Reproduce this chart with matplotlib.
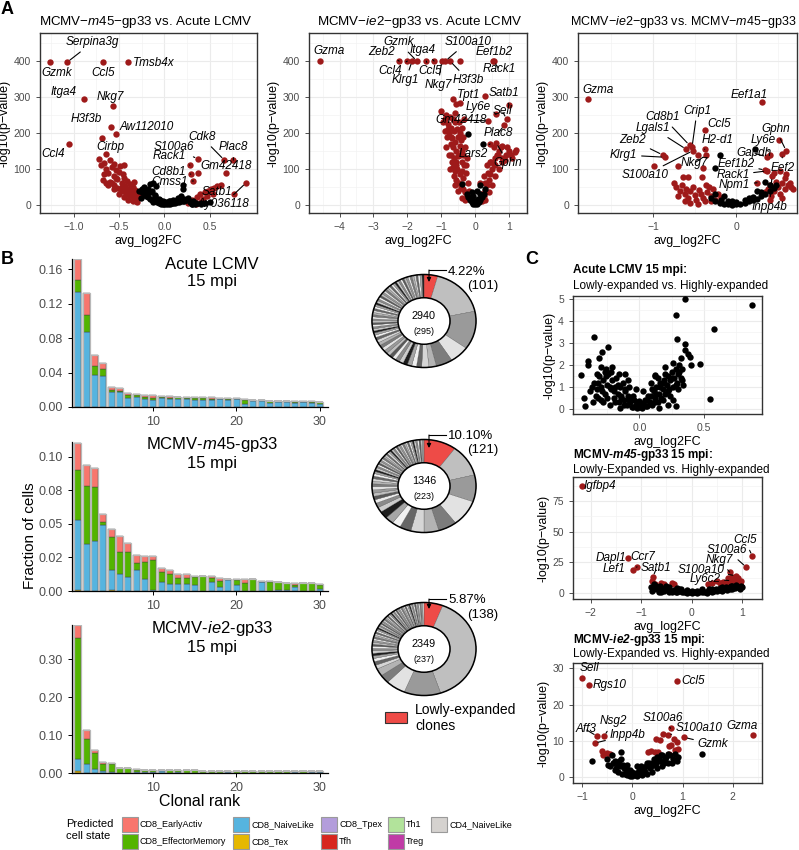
import numpy as np
import matplotlib
matplotlib.use("Agg")
import matplotlib.pyplot as plt
from matplotlib.patches import Circle, Rectangle
from matplotlib.ticker import FixedLocator

plt.rcParams['font.family'] = ['Liberation Sans', 'DejaVu Sans']
plt.rcParams['mathtext.fontset'] = 'custom'
plt.rcParams['mathtext.rm'] = 'Liberation Sans'
plt.rcParams['mathtext.it'] = 'Liberation Sans:italic'
plt.rcParams['mathtext.bf'] = 'Liberation Sans:bold'
plt.rcParams['mathtext.bfit'] = 'Liberation Sans:bold:italic'

# ---------------- data: panel A volcanoes ----------------
a1_genes = ['Gzmk', 'Serpina3g', 'Ccl5', 'Tmsb4x', 'Itga4', 'Nkg7', 'H3f3b', 'Aw112010', 'Cirbp', 'Ccl4',
            'S100a6', 'Cdk8', 'Plac8', 'Gm42418', 'Rack1', 'Cd8b1', 'Cmss1', 'Satb1', 'Ay036118']
a1_gene_fc = [-1.26, -1.07, -0.68, -0.40, -0.89, -0.57, -0.59, -0.53, -0.69, -1.05,
              0.37, 0.66, 0.76, 0.68, 0.28, 0.29, 0.32, 0.77, 0.90]
a1_gene_p = [397, 397, 397, 397, 295, 276, 217, 197, 186, 169, 128, 125, 125, 88, 111, 86, 67, 32, 62]
a1_red_fc = [-0.72, -0.70, -0.66, -0.64, -0.62, -0.60, -0.58, -0.56, -0.55, -0.53, -0.52, -0.50, -0.49, -0.47,
             -0.46, -0.44, -0.43, -0.41, -0.40, -0.38, -0.37, -0.35, -0.34, -0.32, -0.31, -0.29, -0.28, -0.26,
             -0.60, -0.56, -0.52, -0.48, -0.45, -0.42, -0.39, -0.36, -0.33, -0.64, -0.68, -0.31, -0.64, 0.37,
             0.26, 0.30, 0.33, 0.36, 0.39, 0.42, 0.45, 0.48, 0.51, 0.55, 0.58, 0.62, 0.40, 0.47, 0.53, 0.35,
             -0.50, -0.45, -0.40, -0.35, -0.30, -0.47, -0.42, -0.37, -0.33, -0.55, -0.58, -0.62, -0.66, -0.53,
             -0.44]
a1_red_p = [128, 112, 118, 100, 90, 125, 105, 82, 115, 98, 72, 92, 108, 62,
            85, 75, 52, 68, 45, 58, 40, 50, 32, 42, 25, 35, 22, 28,
            65, 55, 48, 38, 40, 30, 28, 25, 18, 60, 70, 11, 141, 88,
            5, 15, 10, 22, 30, 18, 35, 40, 45, 48, 52, 55, 8, 25, 30, 3,
            30, 22, 15, 12, 8, 50, 40, 35, 65, 45, 60, 55, 85, 75,
            110]
a1_black_fc = [-0.28, -0.25, -0.22, -0.20, -0.18, -0.16, -0.14, -0.12, -0.10, -0.08, -0.06, -0.04, -0.02, 0.0,
               0.02, 0.04, 0.06, 0.08, 0.10, 0.12, 0.14, 0.16, 0.18, 0.20, 0.22, 0.24, -0.18, -0.14, -0.10,
               -0.06, -0.02, 0.02, 0.06, 0.10, 0.14, 0.18, 0.22, 0.26, 0.30, -0.22, -0.16, -0.12, -0.09, 0.20,
               0.21, 0.34, 0.40,
               0.30, 0.35, 0.40, 0.45, 0.50, 0.28, 0.32, -0.25, -0.20, -0.15, -0.10, -0.05, 0.0, 0.05, 0.10,
               0.15, 0.18, -0.26, -0.19, -0.13]
a1_black_p = [40, 35, 30, 26, 22, 18, 15, 12, 10, 8, 6, 4, 3, 2,
              2, 3, 4, 5, 6, 7, 8, 9, 10, 11, 12, 13, 45, 38, 28,
              18, 10, 8, 10, 12, 14, 16, 18, 20, 2, 50, 58, 60, 52, 45,
              55, 4, 6,
              3, 5, 3, 6, 8, 8, 12, 45, 40, 35, 25, 15, 8, 12, 15,
              20, 25, 20, 30, 8]

a2_genes = ['Gzma', 'Zeb2', 'Ccl4', 'Klrg1', 'Gzmk', 'Ccl5', 'Itga4', 'Nkg7', 'S100a10', 'H3f3b',
            'Eef1b2', 'Rack1', 'Tpt1', 'Satb1', 'Ly6e', 'Sell', 'Gm42418', 'Plac8', 'Lars2', 'Gphn']
a2_gene_fc = [-4.59, -2.24, -2.00, -1.86, -1.72, -1.44, -1.21, -0.98, -0.88, -0.74,
              0.53, 0.55, 0.29, 1.00, 0.62, 0.93, 0.38, 0.86, 0.44, 0.62]
a2_gene_p = [400, 400, 400, 400, 400, 400, 400, 400, 400, 400, 400, 400, 303, 278, 252, 239, 234, 222, 170, 173]
a2_red_fc = [-0.44, -1.00, -0.90, -0.95, -0.85, -0.80, -0.75, -0.70, -0.88, -0.82, -0.76, -0.68, -0.62, -0.58,
             -0.55, -0.65, -0.46, -0.72, -0.66, -0.60, -0.55, -0.50, -0.45, -0.70, -0.62, -0.56, -0.50, -0.44,
             -0.40, -0.64, -0.58, -0.52, -0.46, -0.40, -0.35, -0.55, -0.48, -0.42, -0.36, -0.30, -0.25, -0.50,
             -0.38, -0.30, -0.85, -0.78, -0.40, -0.35, -0.30, -0.32, -0.25,
             0.20, 0.25, 0.30, 0.35, 0.40, 0.45, 0.50, 0.55, 0.60, 0.65, 0.70, 0.75, 0.80, 0.30, 0.40, 0.50,
             0.60, 0.70, 0.80, 0.90, 1.00, 1.22, 1.18, 0.45, 0.55, 0.35, 0.25, 0.15, 1.10,
             -0.80, -0.72, -0.65, -0.60, -0.52, -0.48, -0.42, -0.38, -0.34, -0.28, -0.22, -0.18, -0.62, -0.55,
             -0.45, -0.35, -0.28, -0.68, -0.74, -0.58, 0.18, 0.28, 0.38, 0.48, 0.58, 0.68, 0.78, 0.88, 0.95,
             1.05]
a2_red_p = [400, 262, 240, 230, 250, 225, 245, 215, 205, 190, 200, 185, 205, 230,
            280, 294, 283, 170, 160, 175, 150, 190, 165, 140, 130, 120, 135, 140,
            120, 105, 95, 100, 85, 95, 75, 70, 60, 50, 45, 35, 25, 40,
            20, 15, 160, 140, 215, 190, 160, 240, 130,
            10, 25, 40, 55, 70, 85, 100, 115, 130, 140, 150, 160, 165, 15, 35, 55,
            80, 100, 120, 140, 150, 153, 148, 120, 160, 110, 80, 60, 130,
            210, 190, 240, 255, 210, 230, 180, 150, 110, 90, 60, 40, 80, 110,
            200, 140, 110, 120, 100, 55, 30, 60, 90, 120, 110, 140, 130, 125, 160,
            140]
a2_black_fc = [-0.25, -0.20, -0.15, -0.10, -0.05, 0.0, 0.05, 0.10, 0.15, 0.20, 0.25, -0.12, 0.0, 0.08, -0.05,
               0.15, -0.38, 0.15, -0.20, 0.24, -0.10, 0.05, 0.30]
a2_black_p = [30, 22, 15, 8, 4, 2, 4, 8, 14, 22, 30, 20, 12, 18, 25,
              30, 58, 55, 197, 170, 35, 40, 45]

a3_genes = ['Gzma', 'Eef1a1', 'Crip1', 'Cd8b1', 'Lgals1', 'Ccl5', 'H2-d1', 'Zeb2', 'Klrg1', 'S100a10',
            'Nkg7', 'Gphn', 'Ly6e', 'Gapdh', 'Eef2', 'Eef1b2', 'Rack1', 'Npm1', 'Inpp4b']
a3_gene_fc = [-1.78, 0.31, -0.53, -0.56, -0.60, -0.38, -0.38, -0.88, -0.86, -0.52,
              -0.36, 0.60, 0.40, 0.37, 0.55, 0.35, 0.37, 0.25, 0.43]
a3_gene_p = [295, 287, 162, 166, 155, 208, 155, 139, 133, 151, 139, 151, 140, 134, 143, 97, 95, 62, 81]
a3_red_fc = [-0.72, -0.68, -0.65, -0.62, -0.60, -0.58, -0.55, -0.52, -0.50, -0.48, -0.45, -0.42, -0.40, -0.38,
             -0.35, -0.33, -0.30, -0.28, -0.25, -0.22, -0.20, -0.18, -0.70, -0.56, -0.46, -0.62, -0.36, -0.30,
             -0.99, -0.70, -0.64, -0.58, -0.41, -0.46, -0.40, -0.75,
             0.35, 0.38, 0.40, 0.42, 0.45, 0.48, 0.50, 0.52, 0.55, 0.58, 0.60, 0.62, 0.45, 0.52, 0.58, 0.66,
             0.68, 0.64, 0.40, 0.55, 0.51]
a3_red_p = [50, 40, 55, 30, 45, 20, 38, 50, 28, 15, 42, 30, 20, 10,
            35, 50, 25, 45, 15, 30, 8, 20, 25, 5, 2, 10, 55, 12,
            108, 108, 78, 78, 78, 139, 103, 60,
            35, 45, 55, 25, 40, 65, 50, 30, 60, 45, 85, 55, 90, 95, 75, 50,
            45, 62, 15, 20, 180]
a3_black_fc = [-0.30, -0.25, -0.20, -0.15, -0.10, -0.05, 0.0, 0.05, 0.10, 0.15, 0.20, 0.25, 0.30, 0.35, 0.40,
               0.45, 0.48, -0.18, -0.10, 0.0, 0.10, 0.20, 0.30, 0.25, 0.40, -0.25, -0.15, 0.23, -0.19, -0.25,
               0.35, 0.15, -0.05]
a3_black_p = [20, 12, 6, 3, 2, 1, 2, 4, 7, 10, 14, 18, 24, 30, 38,
              48, 55, 15, 10, 8, 14, 22, 35, 40, 55, 30, 25, 155, 139, 103,
              65, 20, 12]

# ---------------- data: panel B clone bars ----------------
ranks = list(range(1, 31))
acute_naive = [0.134, 0.087, 0.037, 0.0356, 0.017, 0.018, 0.011, 0.012, 0.009, 0.0085, 0.0104, 0.0097, 0.0097,
               0.0093, 0.0077, 0.0077, 0.0077, 0.0089, 0.008, 0.0089, 0.004, 0.007, 0.007, 0.005, 0.0058, 0.0058,
               0.0046, 0.0054, 0.0046, 0.004]
acute_effmem = [0.014, 0.020, 0.011, 0.0084, 0.003, 0.001, 0.003, 0.002, 0.003, 0.002, 0.0012, 0.0008, 0.0015,
                0.0012, 0.0023, 0.0023, 0.0015, 0.0008, 0.0015, 0.0008, 0.004, 0.0008, 0.0008, 0.0015, 0.0008,
                0.0008, 0.0015, 0.0005, 0.0015, 0.0019]
acute_early = [0.024, 0.025, 0.012, 0.007, 0.003, 0.003, 0.002, 0.001, 0.002, 0.0035, 0.0014, 0.0023, 0.0004,
               0.0011, 0.0012, 0.0016, 0.0020, 0.0012, 0.0012, 0.0004, 0.0013, 0.0004, 0.0002, 0.0008, 0.0004,
               0.0004, 0.0008, 0.0015, 0.0004, 0.0004]

m45_tex = [0.0008, 0, 0, 0, 0.0005, 0, 0, 0, 0, 0, 0, 0, 0, 0, 0, 0, 0, 0, 0, 0, 0, 0, 0, 0, 0, 0, 0, 0, 0, 0]
m45_naive = [0.052, 0.0353, 0.037, 0.049, 0.0155, 0.013, 0.0104, 0.016, 0.009, 0.001, 0.0065, 0.005, 0.005,
             0.0055, 0.0047, 0.0, 0.007, 0.003, 0.008, 0.0045, 0.0, 0.0, 0.0067, 0.0, 0.0005, 0.001, 0.0028,
             0.0, 0.0, 0.0012]
m45_effmem = [0.0375, 0.0427, 0.0406, 0.0025, 0.024, 0.016, 0.0186, 0.005, 0.0126, 0.0224, 0.0077, 0.0074,
              0.005, 0.004, 0.0058, 0.0114, 0.003, 0.0045, 0.0007, 0.004, 0.006, 0.0088, 0.0, 0.0065, 0.0063,
              0.0053, 0.002, 0.0062, 0.0058, 0.0033]
m45_early = [0.0202, 0.0155, 0.0137, 0.0062, 0.006, 0.012, 0.0068, 0.006, 0.0044, 0.0026, 0.0032, 0.0036,
             0.0024, 0.0029, 0.0005, 0.0, 0.001, 0.0025, 0.0005, 0.0005, 0.0032, 0.0, 0.0008, 0.0007, 0.0, 0.0,
             0.0014, 0.0, 0.0, 0.001]

ie2_tex = [0.004, 0.001, 0, 0, 0, 0, 0, 0, 0, 0, 0, 0, 0, 0, 0, 0, 0, 0, 0, 0, 0, 0, 0, 0, 0, 0, 0, 0, 0, 0]
ie2_naive = [0.033, 0.023, 0.0105, 0.0044, 0.002, 0.001, 0.0005, 0.002, 0.002, 0.003, 0.004, 0.001, 0.003,
             0.001, 0.001, 0.0005, 0.0005, 0.001, 0.002, 0.001, 0.001, 0.0005, 0.0005, 0.001, 0.0005, 0.0005,
             0.002, 0.0005, 0.002, 0.002]
ie2_effmem = [0.320, 0.065, 0.042, 0.0186, 0.021, 0.012, 0.012, 0.007, 0.006, 0.004, 0.004, 0.007, 0.004,
              0.006, 0.006, 0.006, 0.0058, 0.005, 0.004, 0.0045, 0.004, 0.005, 0.005, 0.0045, 0.0045, 0.0045,
              0.0025, 0.004, 0.002, 0.002]
ie2_early = [0.032, 0.025, 0.0085, 0.007, 0.003, 0.0005, 0.0005, 0.002, 0.001, 0.002, 0.001, 0.0005, 0.0005,
             0, 0, 0, 0, 0, 0, 0.0005, 0.001, 0, 0, 0, 0, 0, 0, 0, 0, 0]

state_names = ['CD8_EarlyActiv', 'CD8_EffectorMemory', 'CD8_NaiveLike', 'CD8_Tex', 'CD8_Tpex',
               'Tfh', 'Th1', 'Treg', 'CD4_NaiveLike']
state_colors = ['#F8766D', '#53B400', '#56B4DF', '#E6B800', '#B39DDB', '#D7261E', '#B2E39B', '#C03BA6', '#D5D2CF']

# ---------------- data: donuts ----------------
lowly_pct = [4.22, 10.10, 5.87]
lowly_n = [101, 121, 138]
total_cells = [2940, 1346, 2349]
total_clones = [295, 223, 237]
acute_tail = [0.0075, 0.0074, 0.0073, 0.0072, 0.0072, 0.0071, 0.0071, 0.0070, 0.0070, 0.0069, 0.0069, 0.0068,
              0.0068, 0.0068, 0.0067, 0.0067, 0.0067, 0.0066, 0.0066, 0.0066, 0.0065, 0.0065, 0.0065, 0.0065,
              0.0064, 0.0064, 0.0064, 0.0064, 0.0063, 0.0063, 0.0063, 0.0063, 0.0062, 0.0062, 0.0062, 0.0062]
m45_tail = [0.0060, 0.0060, 0.0059, 0.0059, 0.0058, 0.0058, 0.0057, 0.0057, 0.0057, 0.0056, 0.0056, 0.0056,
            0.0055, 0.0055, 0.0055, 0.0055, 0.0054, 0.0054, 0.0054, 0.0054, 0.0053, 0.0053, 0.0053, 0.0053,
            0.0052, 0.0052, 0.0052, 0.0052]
ie2_tail = [0.0050, 0.0050, 0.0049, 0.0049, 0.0048, 0.0048, 0.0048, 0.0047, 0.0047, 0.0047, 0.0046, 0.0046,
            0.0046, 0.0046, 0.0045, 0.0045, 0.0045, 0.0045, 0.0045, 0.0044, 0.0044, 0.0044, 0.0044, 0.0044,
            0.0044, 0.0043, 0.0043, 0.0043, 0.0043, 0.0043, 0.0043, 0.0043]

# ---------------- data: panel C volcanoes ----------------
c1_black_fc = [0.354, 0.87, 0.28, 0.58, -0.35, 0.29, 0.35, 0.35, -0.24, -0.29, 0.38, 0.39, 0.40, 0.47, -0.40,
               -0.40, -0.31, -0.45, -0.43, -0.42, 0.55, 0.28, -0.11, 0.12,
               -0.38, -0.35, -0.33, -0.31, -0.30, -0.28, -0.27, -0.25, -0.24, -0.22, -0.21, -0.20, -0.19, -0.18,
               -0.17, -0.16, -0.15, -0.14, -0.13, -0.12, -0.11, -0.10, -0.09, -0.08, -0.07, -0.06, -0.05, -0.04,
               -0.03, -0.02, 0.0, 0.02, 0.03, 0.05, 0.06, 0.08, 0.09, 0.10, 0.11, 0.12, 0.13, 0.14, 0.15, 0.16,
               0.17, 0.18, 0.19, 0.20, 0.21, 0.22, 0.23, 0.24, 0.25, 0.26, 0.27, 0.28, 0.29, 0.30, 0.31, 0.32,
               0.33, 0.34, -0.28, -0.23, -0.15, 0.15, 0.22, 0.26, -0.32, -0.26, -0.22, -0.30, 0.20, 0.12,
               -0.37, -0.34, -0.32, -0.29, -0.26, -0.23, -0.20, -0.17, -0.14, -0.11, -0.08, -0.05, -0.02, 0.01,
               0.04, 0.07, 0.10, 0.13, 0.16, 0.19, 0.22, 0.25, 0.28, 0.31, 0.33, -0.36, -0.30, -0.25, -0.19,
               -0.12, -0.06, 0.0, 0.06, 0.12, 0.18, 0.24, 0.30, -0.33, -0.27, -0.21, -0.16, -0.09, -0.03, 0.03,
               0.09, 0.14, 0.20, 0.26, 0.32]
c1_black_p = [5.0, 4.73, 4.27, 3.64, 3.27, 3.2, 2.95, 2.67, 2.83, 2.6, 2.5, 2.35, 2.0, 2.05, 2.2,
              2.0, 2.3, 1.55, 0.5, 0.15, 0.45, 0.15, 1.6, 1.55,
              0.8, 1.2, 0.9, 1.5, 1.0, 1.3, 0.7, 1.1, 1.6, 0.9, 1.3, 0.5, 1.0, 1.4,
              0.7, 0.3, 1.0, 0.6, 1.2, 0.4, 0.8, 0.2, 0.6, 1.0, 0.3, 0.5, 0.1, 0.4,
              0.2, 0.05, 0.1, 0.05, 0.25, 0.15, 0.4, 0.3, 0.6, 0.2, 0.8, 0.5, 1.0, 0.3, 0.7, 1.2,
              0.5, 0.9, 1.3, 0.7, 1.1, 1.5, 0.9, 1.3, 1.7, 1.0, 1.4, 1.8, 1.2, 1.6, 2.0, 1.4,
              1.8, 1.1, 0.3, 0.2, 0.05, 0.05, 0.2, 0.4, 0.5, 1.8, 1.7, 1.9, 1.6, 1.5,
              1.0, 0.6, 1.2, 0.8, 1.5, 1.0, 0.8, 1.1, 0.5, 0.9, 0.4, 0.6, 0.3, 0.2,
              0.4, 0.6, 0.9, 0.7, 1.0, 1.2, 0.8, 1.4, 1.1, 1.7, 1.3, 0.3, 0.4, 0.5, 0.3,
              0.2, 0.1, 0.35, 0.15, 0.3, 0.4, 0.6, 0.9, 1.6, 1.7, 1.9, 1.6, 1.3, 0.9, 0.8,
              1.2, 1.4, 1.9, 2.1, 2.3]

c2_genes = ['Igfbp4', 'Dapl1', 'Ccr7', 'Lef1', 'Satb1', 'Ccl5', 'S100a6', 'Nkg7', 'S100a10', 'Ly6c2']
c2_gene_fc = [-2.17, -1.26, -1.09, -1.17, -0.77, 1.20, 1.08, 0.75, 0.88, 0.80]
c2_gene_p = [87, 28.5, 21, 19, 13, 30, 21, 17, 14, 10]
c2_red_fc = [-0.72, -0.60, -0.55, -0.40, -0.35, 0.33, 0.40, 0.50, 0.55, 0.62, 0.70, 0.72, 0.80, 0.85, 0.90,
             0.95, 0.98, 0.92, 0.75, -0.78]
c2_red_p = [7, 8, 7, 8, 7.5, 7, 8, 10, 8, 9, 8, 12, 13, 9, 11, 8, 10, 12, 7, 10]
c2_black_fc = [-0.80, -0.75, -0.70, -0.65, -0.60, -0.55, -0.50, -0.45, -0.40, -0.35, -0.30, -0.25, -0.20, -0.15,
               -0.10, -0.05, 0.0, 0.05, 0.10, 0.15, 0.20, 0.25, 0.30, 0.35, 0.40, 0.45, 0.50, 0.55, 0.60, 0.65,
               0.70, 0.75, 0.80, 0.85, 0.90, 0.95, 1.00, -0.75, -0.50, -0.30, 0.0, 0.20, 0.40, 0.60, 0.80, -0.60,
               0.30, -0.10,
               -0.78, -0.70, -0.62, -0.52, -0.42, -0.32, -0.22, -0.12, -0.02, 0.08, 0.18, 0.28, 0.38, 0.48,
               0.58, 0.68, 0.78, 0.88, 0.98, -0.65, -0.45, -0.25, 0.10, 0.35, 0.55, 0.75, 0.95]
c2_black_p = [5, 3, 6, 2, 4, 1.5, 3, 5, 1, 2.5, 0.8, 1.8, 0.5, 1.2,
              0.3, 0.8, 0.2, 0.5, 0.3, 0.8, 0.5, 1.2, 0.8, 1.5, 1.0, 2, 1.5, 2.5, 2, 3,
              2.5, 3.5, 3, 4, 4.5, 5, 4.5, 7, 6, 4, 2, 3, 3.5, 4.5, 5.5, 0.5,
              0.1, 2.5,
              2, 4, 6, 3, 2, 1, 3, 1, 0.5, 1, 2, 1, 2.5, 3,
              3.5, 5, 6, 6.5, 6, 1, 0.5, 3, 1.5, 3, 4, 4.5, 3]

c3_genes = ['Sell', 'Rgs10', 'Ccl5', 'Gzma', 'Aff3', 'Nsg2', 'Inpp4b', 'S100a6', 'S100a10', 'Gzmk']
c3_gene_fc = [-1.00, -0.87, 0.89, 2.41, -0.70, -0.56, -0.75, 0.76, 0.70, 1.03]
c3_gene_p = [27.5, 25.5, 26.4, 11.6, 11.3, 11.3, 9.4, 13.5, 11.6, 11.0]
c3_red_fc = [-0.60, -0.50, -0.45, -0.58, 0.32, 0.38, 0.45, 0.48, 0.55, 0.52, 0.72, 0.76, 0.82, 0.88, 0.85,
             0.90, 0.62, 0.72]
c3_red_p = [7.2, 6.8, 6.5, 6.2, 7, 7.2, 7, 10.5, 10.2, 7, 8.5, 9, 10.5, 9.8, 7.5, 7.8, 12, 6.5]
c3_black_fc = [-0.50, -0.45, -0.40, -0.35, -0.30, -0.28, -0.25, -0.22, -0.20, -0.17, -0.15, -0.12, -0.10, -0.07,
               -0.05, 0.0, 0.05, 0.10, 0.15, 0.20, 0.25, 0.30, 0.35, 0.40, 0.45, 0.50, 0.55, 0.60, 0.65, 0.70,
               0.75, 0.80, 0.85, 0.90, 1.38, -0.80, -0.22, 0.10, 0.30, -0.10, 0.50, 0.70, 0.20, -0.35, 0.0,
               0.40, 0.60,
               -0.48, -0.38, -0.32, -0.26, -0.18, -0.12, -0.04, 0.02, 0.08, 0.13, 0.18, 0.23, 0.28, 0.33,
               0.38, 0.43, 0.48, 0.53, 0.58, 0.63, 0.68, 0.78, 0.88]
c3_black_p = [5, 3, 6, 2, 4, 1.5, 3, 5, 1, 2.5, 0.8, 1.8, 0.5, 1.2,
              0.3, 0.2, 0.5, 0.3, 1, 0.6, 1.5, 1, 2.5, 1.5, 3.5, 2.5, 4.5, 3, 5, 4,
              6, 5, 6.5, 5.5, 6.3, 4.5, 7, 3, 4, 3.5, 5.5, 6.5, 2.5, 4.5, 1.5,
              4, 6,
              3.5, 4, 2.5, 4.5, 3.5, 2.5, 2, 1, 1.2, 2, 3, 2, 3, 4,
              3, 5, 4, 5, 6, 4, 5.5, 4, 4.5]

# ---------------- label placement (data coords, draw line?) ----------------
a1_label_pos = {'Gzmk': (-1.19, 366, False), 'Serpina3g': (-0.79, 452, True), 'Ccl5': (-0.68, 366, False),
                'Tmsb4x': (-0.12, 394, False), 'Itga4': (-1.11, 314, False), 'Nkg7': (-0.59, 300, False),
                'H3f3b': (-0.86, 239, False), 'Aw112010': (-0.19, 217, False), 'Cirbp': (-0.6, 160, False),
                'Ccl4': (-1.23, 142, False), 'S100a6': (0.10, 160, True), 'Cdk8': (0.41, 189, True),
                'Plac8': (0.76, 160, True), 'Gm42418': (0.68, 108, False), 'Rack1': (0.05, 136, True),
                'Cd8b1': (0.05, 93, True), 'Cmss1': (0.06, 63, True), 'Satb1': (0.58, 37, False),
                'Ay036118': (0.65, 2, True)}
a2_label_pos = {'Gzma': (-4.32, 428, False), 'Zeb2': (-2.75, 424, True), 'Ccl4': (-2.5, 372, True),
                'Gzmk': (-2.25, 452, True), 'Klrg1': (-2.05, 347, True), 'Itga4': (-1.56, 431, True),
                'Ccl5': (-1.33, 372, True), 'S100a10': (-0.22, 453, True), 'Nkg7': (-1.1, 333, True),
                'H3f3b': (-0.2, 347, True), 'Eef1b2': (0.55, 425, False), 'Rack1': (0.7, 378, True),
                'Tpt1': (-0.2, 305, False), 'Satb1': (0.85, 311, True), 'Ly6e': (0.1, 272, True),
                'Sell': (0.8, 261, True), 'Gm42418': (-0.4, 236, True), 'Plac8': (0.68, 200, True),
                'Lars2': (-0.05, 142, True), 'Gphn': (0.97, 117, True)}
a3_label_pos = {'Gzma': (-1.66, 320, False), 'Eef1a1': (0.15, 305, False), 'Crip1': (-0.47, 262, True),
                'Cd8b1': (-0.88, 244, True), 'Lgals1': (-1.0, 214, True), 'Ccl5': (-0.2, 225, False),
                'H2-d1': (-0.22, 182, True), 'Zeb2': (-1.24, 180, True), 'Klrg1': (-1.35, 139, True),
                'S100a10': (-1.10, 83, True), 'Nkg7': (-0.5, 117, True), 'Gphn': (0.47, 212, True),
                'Ly6e': (0.33, 180, True), 'Gapdh': (0.21, 144, True), 'Eef2': (0.56, 103, True),
                'Eef1b2': (0.0, 114, True), 'Rack1': (-0.04, 83, True), 'Npm1': (-0.02, 56, True),
                'Inpp4b': (0.40, -5, True)}
c2_label_pos = {'Igfbp4': (-1.82, 87, False), 'Dapl1': (-1.6, 28.6, False), 'Ccr7': (-0.97, 29.5, True),
                'Lef1': (-1.53, 19.6, False), 'Satb1': (-0.7, 20, True), 'Ccl5': (1.05, 43, True),
                'S100a6': (0.7, 35, True), 'Nkg7': (0.55, 27, True), 'S100a10': (0.18, 19, True),
                'Ly6c2': (0.26, 11.5, True)}
c3_label_pos = {'Sell': (-0.85, 30.2, False), 'Rgs10': (-0.45, 25.3, False), 'Ccl5': (1.2, 26.4, False),
                'Gzma': (2.19, 14.0, False), 'Aff3': (-0.93, 13.2, True), 'Nsg2': (-0.38, 15.4, True),
                'Inpp4b': (-0.1, 11.6, True), 'S100a6': (0.6, 16.2, True), 'S100a10': (1.33, 13.5, True),
                'Gzmk': (1.6, 9.1, True)}

RED = '#9E1A1A'
DONUT_RED = '#EE4B47'
GREYS = ['#bfbfbf', '#9a9a9a', '#e2e2e2', '#7c7c7c', '#b3b3b3', '#d6d6d6', '#666666', '#f0f0f0',
         '#a6a6a6', '#1e1e1e', '#cccccc', '#8a8a8a', '#ececec', '#595959']
PT = 21

W, H = 799, 850
fig = plt.figure(figsize=(W / 100, H / 100), dpi=100)


def px_axes(l, t, r, b):
    return fig.add_axes([l / W, 1 - b / H, (r - l) / W, (b - t) / H])


def style_bw(ax, xlim, ylim, xmaj, xmin, ymaj, ymin):
    ax.set_xlim(xlim)
    ax.set_ylim(ylim)
    ax.xaxis.set_major_locator(FixedLocator(xmaj))
    ax.xaxis.set_minor_locator(FixedLocator(xmin))
    ax.yaxis.set_major_locator(FixedLocator(ymaj))
    ax.yaxis.set_minor_locator(FixedLocator(ymin))
    ax.grid(which='major', color='#EBEBEB', lw=0.8)
    ax.grid(which='minor', color='#F2F2F2', lw=0.45)
    ax.set_axisbelow(True)
    for s in ax.spines.values():
        s.set_color('#333333')
        s.set_linewidth(1.0)
    ax.tick_params(which='major', labelsize=7.5, labelcolor='#4D4D4D', color='#333333', length=3, width=0.6)
    ax.tick_params(which='minor', length=0)
    ax.set_ylabel('-log10(p\u2212value)', fontsize=9, labelpad=2)
    ax.set_xlabel('avg_log2FC', fontsize=9, labelpad=2)


def volcano(ax, black_fc, black_p, red_fc, red_p, genes, gene_fc, gene_p, label_pos, fs=8.5):
    ax.scatter(red_fc, red_p, s=PT, c=RED, lw=0, zorder=3)
    ax.scatter(gene_fc, gene_p, s=PT, c=RED, lw=0, zorder=3)
    ax.scatter(black_fc, black_p, s=PT, c='black', lw=0, zorder=4)
    for g, x, y in zip(genes, gene_fc, gene_p):
        tx, ty, line = label_pos[g]
        if line:
            ax.annotate(g, xy=(x, y), xytext=(tx, ty), fontsize=fs, style='italic', ha='center', va='center',
                        zorder=5, arrowprops=dict(arrowstyle='-', lw=0.8, color='black', shrinkA=1, shrinkB=2.5))
        else:
            ax.text(tx, ty, g, fontsize=fs, style='italic', ha='center', va='center', zorder=5)


# ---------------- A ----------------
a_ymaj = [0, 100, 200, 300, 400]
a_ymin = [50, 150, 250, 350, 450]
ax = px_axes(40, 33, 257, 213)
style_bw(ax, (-1.37, 1.02), (-22, 478), [-1.0, -0.5, 0.0, 0.5], [-1.25, -0.75, -0.25, 0.25, 0.75], a_ymaj, a_ymin)
volcano(ax, a1_black_fc, a1_black_p, a1_red_fc, a1_red_p, a1_genes, a1_gene_fc, a1_gene_p, a1_label_pos)

ax = px_axes(309, 33, 527, 213)
style_bw(ax, (-4.9, 1.53), (-22, 478), [-4, -3, -2, -1, 0, 1], [-4.5, -3.5, -2.5, -1.5, -0.5, 0.5, 1.5],
         a_ymaj, a_ymin)
volcano(ax, a2_black_fc, a2_black_p, a2_red_fc, a2_red_p, a2_genes, a2_gene_fc, a2_gene_p, a2_label_pos)

ax = px_axes(578, 33, 797, 213)
style_bw(ax, (-1.9, 0.73), (-22, 478), [-1, 0], [-1.5, -0.5, 0.5], a_ymaj, a_ymin)
volcano(ax, a3_black_fc, a3_black_p, a3_red_fc, a3_red_p, a3_genes, a3_gene_fc, a3_gene_p, a3_label_pos)


# ---------------- B ----------------
def clone_bars(ax, stacks, ylim, yticks, ylabels):
    # stacks listed bottom -> top as (state index, values)
    bottom = np.zeros(len(ranks))
    for idx, vals in stacks:
        vals = np.array(vals)
        ax.bar(ranks, vals, bottom=bottom, width=0.85, color=state_colors[idx], edgecolor='#3d3d3d',
               linewidth=0.3)
        bottom = bottom + vals
    ax.bar(ranks, bottom, width=0.85, fill=False, edgecolor='#b8b8b8', linewidth=0.9)
    ax.set_xlim(0.3, 31.0)
    ax.set_ylim(ylim)
    ax.set_xticks([10, 20, 30])
    ax.set_yticks(yticks)
    ax.set_yticklabels(ylabels)
    for s in ['top', 'right']:
        ax.spines[s].set_visible(False)
    for s in ['left', 'bottom']:
        ax.spines[s].set_linewidth(0.9)
    ax.tick_params(labelsize=9, labelcolor='#4D4D4D', length=3, width=0.7)


ax = px_axes(72, 259, 328, 407)
clone_bars(ax, [(2, acute_naive), (1, acute_effmem), (0, acute_early)], (0, 0.172),
           [0, 0.04, 0.08, 0.12, 0.16], ['0.00', '0.04', '0.08', '0.12', '0.16'])
ax = px_axes(72, 442, 328, 591)
clone_bars(ax, [(3, m45_tex), (2, m45_naive), (1, m45_effmem), (0, m45_early)], (0, 0.111),
           [0, 0.025, 0.05, 0.075, 0.10], ['0.00', '0.02', '0.05', '0.08', '0.10'])
ax = px_axes(72, 625, 328, 773)
clone_bars(ax, [(3, ie2_tex), (2, ie2_naive), (1, ie2_effmem), (0, ie2_early)], (0, 0.39),
           [0, 0.1, 0.2, 0.3], ['0.00', '0.10', '0.20', '0.30'])

# donuts
donut_cy = [321, 486, 649]
donut_tails = [acute_tail, m45_tail, ie2_tail]
donut_bars = [np.array(acute_naive) + np.array(acute_effmem) + np.array(acute_early),
              np.array(m45_tex) + np.array(m45_naive) + np.array(m45_effmem) + np.array(m45_early),
              np.array(ie2_tex) + np.array(ie2_naive) + np.array(ie2_effmem) + np.array(ie2_early)]
cx = 424
for i in range(3):
    cy = donut_cy[i]
    dax = px_axes(cx - 53.6, cy - 47.9, cx + 53.6, cy + 47.9)
    clones = list(donut_bars[i]) + donut_tails[i]
    vals = [lowly_pct[i] / 100] + clones
    cols = [DONUT_RED] + [GREYS[k % len(GREYS)] for k in range(len(clones))]
    dax.pie(vals, colors=cols, startangle=90, counterclock=False, radius=1,
            wedgeprops=dict(width=0.5, edgecolor='#4a4a4a', linewidth=0.2))
    dax.set_aspect('auto')
    dax.set_xlim(-1.03, 1.03)
    dax.set_ylim(-1.03, 1.03)
    dax.add_patch(Circle((0, 0), 1, fill=False, ec='black', lw=1.1))
    dax.add_patch(Circle((0, 0), 0.5, fill=False, ec='black', lw=1.1))
    dax.text(0, 0.1, str(total_cells[i]), ha='center', va='center', fontsize=7.8)
    dax.text(0, -0.22, '(%d)' % total_clones[i], ha='center', va='center', fontsize=6.5)

# ---------------- C ----------------
c_sub = 'Lowly-Expanded vs. Highly-expanded'
ax = px_axes(573, 296, 762, 414)
style_bw(ax, (-0.515, 0.95), (-0.23, 5.14), [0.0, 0.5], [-0.25, 0.25, 0.75], [0, 1, 2, 3, 4, 5],
         [0.5, 1.5, 2.5, 3.5, 4.5])
ax.scatter(c1_black_fc, c1_black_p, s=PT, c='black', lw=0, zorder=4)
ax.set_xticklabels(['0.0', '0.5'])

ax = px_axes(573, 477, 762, 599)
style_bw(ax, (-2.35, 1.39), (-4.9, 94.6), [-2, -1, 0, 1], [-1.5, -0.5, 0.5], [0, 25, 50, 75],
         [12.5, 37.5, 62.5, 87.5])
volcano(ax, c2_black_fc, c2_black_p, c2_red_fc, c2_red_p, c2_genes, c2_gene_fc, c2_gene_p, c2_label_pos)

ax = px_axes(573, 663, 762, 783)
style_bw(ax, (-1.18, 2.58), (-1.6, 31.5), [-1, 0, 1, 2], [-0.5, 0.5, 1.5, 2.5], [0, 10, 20, 30],
         [5, 15, 25])
volcano(ax, c3_black_fc, c3_black_p, c3_red_fc, c3_red_p, c3_genes, c3_gene_fc, c3_gene_p, c3_label_pos)

# ---------------- overlay for free text ----------------
ov = fig.add_axes([0, 0, 1, 1])
ov.set_xlim(0, W)
ov.set_ylim(H, 0)
ov.axis('off')

for x, y, t in [(1, 9, 'A'), (1, 259, 'B'), (525, 259, 'C')]:
    ov.text(x, y, t, fontsize=13, fontweight='bold', ha='left', va='center')

ov.text(146, 22, 'MCMV\u2212$\\mathit{m45}$\u2212gp33 vs. Acute LCMV', fontsize=9.6, ha='center', va='center')
ov.text(420, 22, 'MCMV\u2212$\\mathit{ie2}$\u2212gp33 vs. Acute LCMV', fontsize=9.6, ha='center', va='center')
ov.text(797, 22, 'MCMV\u2212$\\mathit{ie2}$\u2212gp33 vs. MCMV\u2212$\\mathit{m45}$\u2212gp33', fontsize=9,
        ha='right', va='center')

ov.text(212, 273, 'Acute LCMV\n15 mpi', fontsize=12, ha='center', va='center', linespacing=1.15)
ov.text(212, 453, 'MCMV-$\\mathit{m45}$-gp33\n15 mpi', fontsize=12, ha='center', va='center', linespacing=1.15)
ov.text(212, 637, 'MCMV-$\\mathit{ie2}$-gp33\n15 mpi', fontsize=12, ha='center', va='center', linespacing=1.15)
ov.text(30, 536, 'Fraction of cells', fontsize=11, rotation=90, ha='center', va='center')
ov.text(200, 802, 'Clonal rank', fontsize=11.5, ha='center', va='center')

# donut labels
pct_y = [272, 436, 600]
cnt_y = [286, 450, 615]
line_y = [270, 435, 599]
tip_y = [282, 448, 609]
for i in range(3):
    ov.text(448, pct_y[i], '%.2f%%' % lowly_pct[i], fontsize=9.5, ha='left', va='center')
    ov.text(498, cnt_y[i], '(%d)' % lowly_n[i], fontsize=9.5, ha='right', va='center')
    ov.plot([446, 429], [line_y[i], line_y[i]], color='black', lw=0.8)
    ov.annotate('', xy=(429, tip_y[i]), xytext=(429, line_y[i]),
                arrowprops=dict(arrowstyle='-|>', lw=0.8, color='black', mutation_scale=6, shrinkA=0, shrinkB=0))
ov.add_patch(Rectangle((385, 712), 22, 11, facecolor=DONUT_RED, edgecolor='#333333', lw=0.8))
ov.text(415, 718, 'Lowly-expanded\nclones', fontsize=10, ha='left', va='center', linespacing=1.1)

# C titles
ov.text(573, 270, 'Acute LCMV 15 mpi:', fontsize=8.5, fontweight='bold', ha='left', va='center')
ov.text(573, 286, 'Lowly-expanded vs. Highly-expanded', fontsize=8.5, ha='left', va='center')
ov.text(573, 455, 'MCMV-$\\mathbfit{m45}$-gp33 15 mpi:', fontsize=8.5, fontweight='bold', ha='left', va='center')
ov.text(573, 470, c_sub, fontsize=8.5, ha='left', va='center')
ov.text(573, 640, 'MCMV-$\\mathbfit{ie2}$-gp33 15 mpi:', fontsize=8.5, fontweight='bold', ha='left', va='center')
ov.text(573, 654, c_sub, fontsize=8.5, ha='left', va='center')

# cell state legend
ov.text(66, 830, 'Predicted\ncell state', fontsize=8, ha='left', va='center', linespacing=1.3)
key_cols = [122, 233, 321, 388, 431]
key_rows = [817, 834]
for k, name in enumerate(state_names):
    kx = key_cols[k // 2]
    ky = key_rows[k % 2]
    ov.add_patch(Rectangle((kx, ky), 16, 15, facecolor=state_colors[k], edgecolor='#9a9a9a', lw=0.8))
    ov.text(kx + 18, ky + 7.5, name, fontsize=6.5, ha='left', va='center')

fig.savefig('out.png', dpi=100)
